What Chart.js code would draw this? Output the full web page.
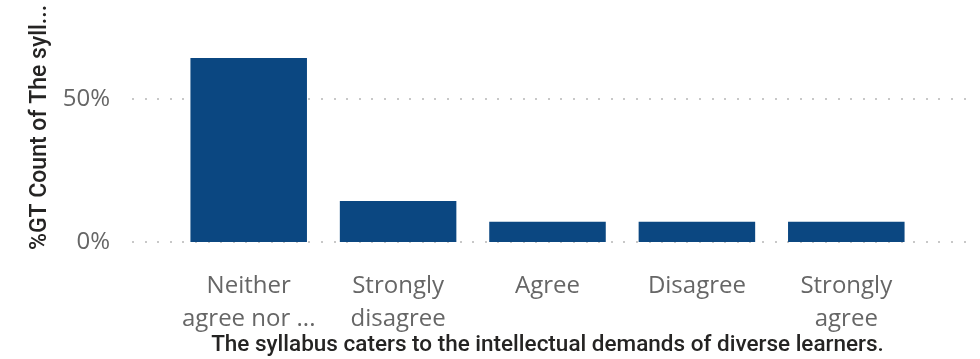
<!DOCTYPE html>
<html>
<head>
<meta charset="utf-8">
<script src="https://cdn.jsdelivr.net/npm/chart.js@4"></script>
<style>
  html, body { margin: 0; padding: 0; background: #fff; }
  #wrap { width: 980px; height: 359px; }
</style>
</head>
<body>
<div id="wrap"><canvas id="chartSyllabus" width="980" height="359"></canvas></div>
<script>
// dados
const categorias = [['Neither', 'agree nor ...'], ['Strongly', 'disagree'], 'Agree', 'Disagree', ['Strongly', 'agree']];
const percentuais = [0.643, 0.143, 0.071, 0.071, 0.071];
const ticksY = [0, 0.5];

const tituloX = 'The syllabus caters to the intellectual demands of diverse learners.';
const tituloY = '%GT Count of The syll...';

const corBarra = '#0b4781';
const corTick = '#666666';
const corTitulo = '#252423';

// linhas de grade pontilhadas estilo Power BI (passam um pouco além da área do gráfico)
const gradePontilhada = {
  id: 'gradePontilhada',
  beforeDatasetsDraw(chart) {
    const { ctx, scales: { y } } = chart;
    ctx.save();
    ctx.fillStyle = '#c8c8c8';
    y.ticks.forEach(t => {
      const py = Math.round(y.getPixelForValue(t.value));
      for (let px = 132; px <= 970; px += 12.6) {
        ctx.fillRect(Math.round(px), py - 1, 2, 2);
      }
    });
    ctx.restore();
  }
};

new Chart(document.getElementById('chartSyllabus'), {
  type: 'bar',
  data: {
    labels: categorias,
    datasets: [{
      data: percentuais,
      backgroundColor: corBarra,
      categoryPercentage: 1,
      barPercentage: 0.78
    }]
  },
  options: {
    responsive: false,
    animation: false,
    layout: { padding: { top: 13, right: 59, left: 0, bottom: 0 } },
    plugins: { legend: { display: false }, tooltip: { enabled: false } },
    scales: {
      x: {
        grid: { display: false, drawTicks: false },
        border: { display: false },
        ticks: {
          color: corTick,
          padding: 28,
          maxRotation: 0,
          autoSkip: false,
          font: { family: 'Open Sans', size: 24, lineHeight: 1.375 }
        },
        title: {
          display: true,
          text: tituloX,
          color: corTitulo,
          padding: { top: 0, bottom: 0 },
          font: { family: 'Roboto', size: 22.5, weight: '500' }
        },
        afterFit(s) { s.height = 117; }
      },
      y: {
        min: 0,
        max: 0.8,
        grid: { display: false, drawTicks: false },
        border: { display: false },
        afterBuildTicks(s) { s.ticks = ticksY.map(v => ({ value: v })); },
        ticks: {
          color: corTick,
          padding: 64,
          font: { family: 'Open Sans', size: 24 },
          callback: v => Math.round(v * 100) + '%'
        },
        title: {
          display: true,
          text: tituloY,
          color: corTitulo,
          padding: { top: 26, bottom: 0 },
          font: { family: 'Roboto', size: 23, weight: '500' }
        },
        afterFit(s) {
          s.width = 174;
          // o padding dos ticks não deve empurrar a área do gráfico para baixo
          s.paddingTop = 0;
          s.paddingBottom = 0;
        }
      }
    }
  },
  plugins: [gradePontilhada]
});
</script>
</body>
</html>
